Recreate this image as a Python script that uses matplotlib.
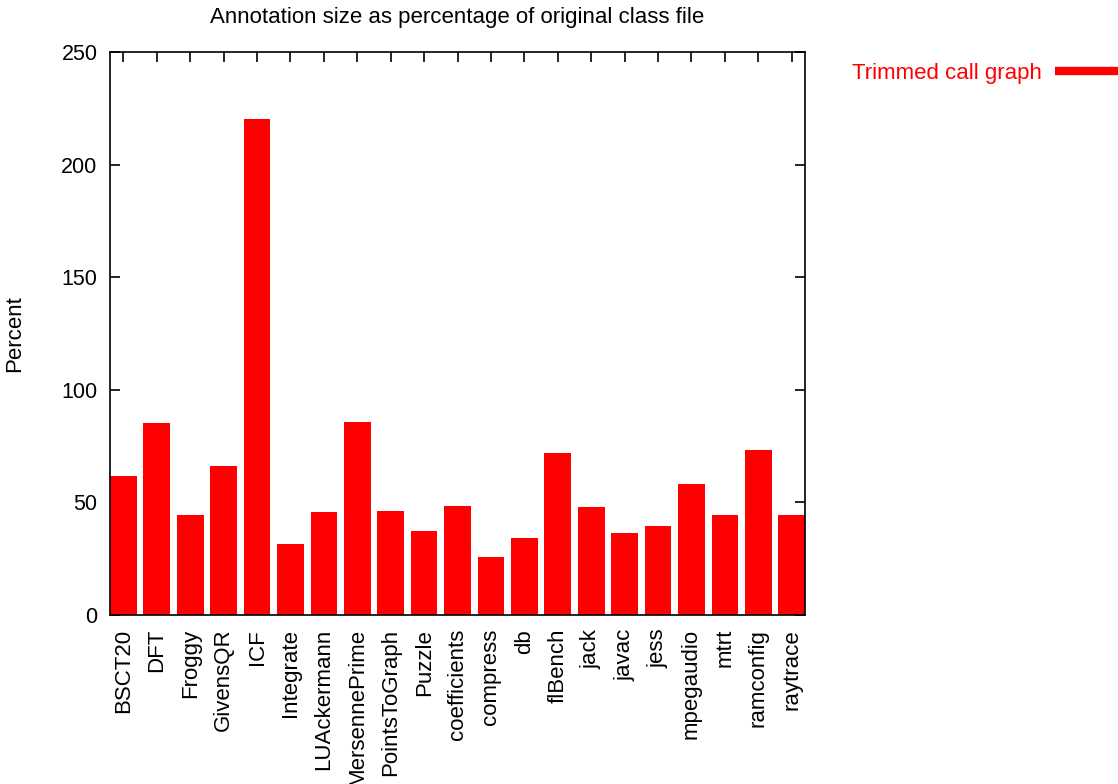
import matplotlib
matplotlib.use("Agg")
import matplotlib.pyplot as plt
from matplotlib.lines import Line2D
import numpy as np

benchmarks = ["BSCT20", "DFT", "Froggy", "GivensQR", "ICF", "Integrate",
              "LUAckermann", "MersennePrime", "PointsToGraph", "Puzzle",
              "coefficients", "compress", "db", "flBench", "jack", "javac",
              "jess", "mpegaudio", "mtrt", "ramconfig", "raytrace"]
percent = [61.7, 85.3, 44.4, 66.2, 220.2, 31.5, 45.7, 85.7, 46.2, 37.3,
           48.4, 25.8, 34.2, 71.9, 48.0, 36.4, 39.5, 58.2, 44.4, 73.3, 44.4]
y_ticks = [0, 50, 100, 150, 200, 250]

plt.rcParams["font.family"] = ["Liberation Sans", "DejaVu Sans"]
FS = 16

fig = plt.figure(figsize=(11.18, 7.84), dpi=100)
ax = fig.add_axes([0.0984, 0.2156, 0.6217, 0.7181])

x = np.arange(len(benchmarks))
# bars sit above the tick marks (gnuplot style), frame stays on top
ax.bar(x, percent, width=0.8, color="#ff0000", zorder=2.6)

ax.set_xlim(-0.4, len(benchmarks) - 0.6)
ax.set_ylim(0, 250)
ax.set_yticks(y_ticks)
ax.set_xticks(x)
ax.set_xticklabels(benchmarks, rotation=90, fontsize=FS)
ax.tick_params(axis="y", labelsize=15.5)

ax.tick_params(axis="both", which="major", direction="in", length=7.5, width=1.2,
               top=True, right=True)
ax.tick_params(axis="x", pad=10)
ax.tick_params(axis="y", pad=9)
for sp in ax.spines.values():
    sp.set_linewidth(1.2)
    sp.set_zorder(3)

ax.set_ylabel("Percent", fontsize=FS)
ax.yaxis.set_label_coords(-0.122, 0.5)
ax.set_title("Annotation size as percentage of original class file",
             fontsize=FS, pad=21)

handle = Line2D([], [], color="#ff0000", linewidth=6, solid_capstyle="butt")
ax.legend(handles=[handle], labels=["Trimmed call graph"], loc="center left",
          bbox_to_anchor=(0.762, 0.906), bbox_transform=fig.transFigure,
          frameon=False, markerfirst=False, labelcolor="#ff0000",
          fontsize=FS, handlelength=3.5, handletextpad=0.6,
          borderaxespad=0, borderpad=0)

fig.savefig("out.png", dpi=100)
